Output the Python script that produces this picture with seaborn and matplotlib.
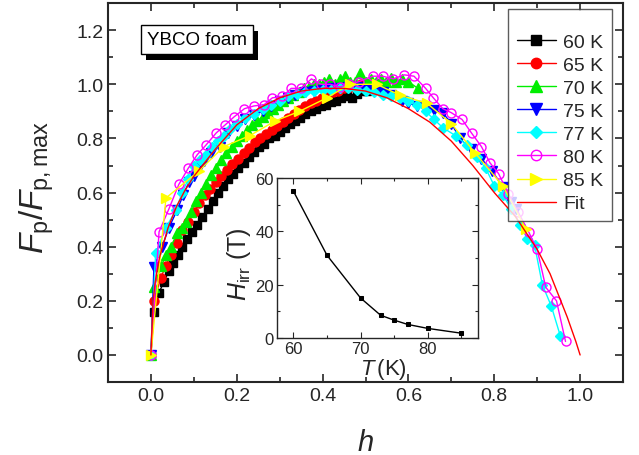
import numpy as np
import matplotlib
matplotlib.use('Agg')
import matplotlib.pyplot as plt
import matplotlib.patheffects as pe
from matplotlib.lines import Line2D
from matplotlib.ticker import MultipleLocator
import seaborn as sns

# Fp/Fp,max vs reduced field h, for each temperature
h_60 = [0.0, 0.007, 0.019, 0.030, 0.042, 0.051, 0.063, 0.073, 0.085, 0.096, 0.108, 0.120,
        0.132, 0.144, 0.156, 0.168, 0.180, 0.192, 0.204, 0.216, 0.228, 0.240, 0.252, 0.264,
        0.276, 0.288, 0.300, 0.312, 0.324, 0.336, 0.348, 0.360, 0.372, 0.384, 0.396, 0.408,
        0.420, 0.432, 0.444, 0.456, 0.468, 0.480, 0.492, 0.504, 0.516, 0.528]
fp_60 = [0.0, 0.16, 0.23, 0.27, 0.31, 0.34, 0.37, 0.40, 0.43, 0.455, 0.48, 0.51,
         0.54, 0.57, 0.60, 0.625, 0.65, 0.67, 0.69, 0.71, 0.73, 0.75, 0.77, 0.78,
         0.80, 0.81, 0.825, 0.84, 0.855, 0.865, 0.875, 0.89, 0.90, 0.91, 0.92, 0.925,
         0.935, 0.94, 0.95, 0.955, 0.95, 0.965, 0.975, 0.975, 0.99, 1.0]

h_65 = [0.0, 0.007, 0.023, 0.035, 0.047, 0.061, 0.073, 0.087, 0.100, 0.112, 0.126, 0.138,
        0.152, 0.164, 0.178, 0.190, 0.203, 0.216, 0.229, 0.242, 0.255, 0.268, 0.281, 0.294,
        0.307, 0.320, 0.333, 0.346, 0.359, 0.372, 0.385, 0.398, 0.411, 0.424, 0.437, 0.450,
        0.463, 0.476, 0.489, 0.502, 0.515, 0.526]
fp_65 = [0.0, 0.20, 0.285, 0.33, 0.37, 0.415, 0.46, 0.49, 0.53, 0.56, 0.59, 0.615,
         0.64, 0.66, 0.685, 0.705, 0.725, 0.745, 0.765, 0.785, 0.80, 0.815, 0.83, 0.845,
         0.86, 0.875, 0.89, 0.905, 0.92, 0.93, 0.94, 0.95, 0.96, 0.97, 0.975, 0.985,
         0.99, 0.995, 1.0, 0.995, 0.99, 0.985]

h_70 = [0.0, 0.007, 0.024, 0.036, 0.047, 0.061, 0.072, 0.082, 0.094, 0.105, 0.117, 0.128,
        0.140, 0.152, 0.164, 0.176, 0.188, 0.200, 0.212, 0.224, 0.236, 0.248, 0.260, 0.272,
        0.284, 0.296, 0.308, 0.320, 0.332, 0.344, 0.356, 0.368, 0.380, 0.392, 0.404, 0.416,
        0.428, 0.440, 0.452, 0.464, 0.476, 0.488, 0.500, 0.512, 0.524, 0.536, 0.548, 0.560,
        0.572, 0.584, 0.600, 0.622]
fp_70 = [0.0, 0.25, 0.33, 0.37, 0.40, 0.45, 0.47, 0.49, 0.53, 0.57, 0.60, 0.63,
         0.665, 0.69, 0.72, 0.745, 0.77, 0.79, 0.81, 0.83, 0.85, 0.865, 0.88, 0.895,
         0.91, 0.925, 0.94, 0.95, 0.96, 0.97, 0.985, 0.99, 1.0, 1.0, 1.01, 1.02,
         1.0, 1.02, 1.03, 1.01, 1.01, 1.04, 1.01, 1.02, 1.01, 1.02, 1.01, 1.025,
         1.01, 1.02, 1.01, 0.985]

h_75 = [0.0, 0.007, 0.026, 0.042, 0.061, 0.075, 0.089, 0.100, 0.112, 0.124, 0.140, 0.160,
        0.180, 0.200, 0.220, 0.240, 0.260, 0.280, 0.300, 0.320, 0.335, 0.360, 0.380, 0.400,
        0.420, 0.440, 0.460, 0.480, 0.500, 0.520, 0.540, 0.560, 0.585, 0.600, 0.620, 0.640,
        0.660, 0.680, 0.700, 0.720, 0.745, 0.770, 0.795, 0.820, 0.840, 0.850]
fp_75 = [0.0, 0.325, 0.40, 0.47, 0.535, 0.59, 0.64, 0.66, 0.69, 0.715, 0.745, 0.77,
         0.82, 0.845, 0.87, 0.885, 0.90, 0.92, 0.94, 0.95, 0.96, 0.97, 0.975, 0.98,
         0.985, 0.985, 0.99, 0.99, 0.98, 0.98, 0.97, 0.96, 0.94, 0.93, 0.92, 0.915,
         0.905, 0.895, 0.855, 0.80, 0.76, 0.725, 0.68, 0.62, 0.565, 0.54]

h_77 = [0.0, 0.011, 0.035, 0.058, 0.073, 0.087, 0.100, 0.114, 0.128, 0.142, 0.156, 0.170,
        0.185, 0.200, 0.220, 0.240, 0.260, 0.280, 0.300, 0.320, 0.340, 0.360, 0.380, 0.400,
        0.420, 0.440, 0.460, 0.480, 0.500, 0.520, 0.540, 0.560, 0.580, 0.600, 0.620, 0.640,
        0.660, 0.680, 0.710, 0.737, 0.760, 0.780, 0.800, 0.820, 0.840, 0.860, 0.877, 0.894,
        0.912, 0.933, 0.954]
fp_77 = [0.0, 0.375, 0.47, 0.535, 0.60, 0.65, 0.70, 0.72, 0.74, 0.77, 0.79, 0.81,
         0.835, 0.855, 0.875, 0.89, 0.91, 0.925, 0.94, 0.955, 0.965, 0.97, 0.975, 0.98,
         0.98, 0.985, 0.985, 0.98, 0.975, 0.97, 0.96, 0.955, 0.95, 0.94, 0.925, 0.90,
         0.87, 0.84, 0.81, 0.775, 0.73, 0.69, 0.625, 0.59, 0.54, 0.48, 0.43, 0.405,
         0.26, 0.18, 0.07]

h_80 = [0.0, 0.019, 0.042, 0.065, 0.087, 0.108, 0.128, 0.152, 0.173, 0.194, 0.218, 0.240,
        0.264, 0.283, 0.306, 0.327, 0.350, 0.374, 0.396, 0.418, 0.440, 0.462, 0.485, 0.517,
        0.540, 0.565, 0.590, 0.613, 0.640, 0.658, 0.680, 0.700, 0.725, 0.747, 0.770, 0.790,
        0.810, 0.833, 0.855, 0.880, 0.900, 0.920, 0.945, 0.966]
fp_80 = [0.0, 0.455, 0.54, 0.63, 0.69, 0.74, 0.775, 0.82, 0.85, 0.88, 0.91, 0.92,
         0.925, 0.95, 0.955, 0.985, 0.985, 1.02, 1.0, 1.0, 0.99, 1.0, 1.01, 1.03,
         1.03, 1.02, 1.035, 1.03, 0.985, 0.95, 0.91, 0.895, 0.87, 0.82, 0.77, 0.71,
         0.67, 0.595, 0.53, 0.455, 0.39, 0.25, 0.20, 0.05]

h_85 = [0.0, 0.035, 0.112, 0.170, 0.230, 0.290, 0.346, 0.410, 0.463, 0.526, 0.580, 0.643,
        0.700, 0.756, 0.820, 0.873]
fp_85 = [0.0, 0.58, 0.68, 0.77, 0.81, 0.865, 0.90, 0.95, 1.0, 1.0, 0.96, 0.93,
         0.855, 0.745, 0.625, 0.467]

h_fit = [0.0, 0.005, 0.01, 0.02, 0.04, 0.06, 0.08, 0.1, 0.15, 0.2, 0.25, 0.3, 0.35, 0.4,
         0.45, 0.5, 0.55, 0.6, 0.65, 0.7, 0.75, 0.8, 0.85, 0.9, 0.93, 0.95, 0.97, 0.99, 1.0]
fp_fit = [0.0, 0.2, 0.27, 0.36, 0.47, 0.55, 0.61, 0.66, 0.76, 0.85, 0.91, 0.95, 0.975, 0.985,
          0.985, 0.975, 0.95, 0.91, 0.86, 0.79, 0.70, 0.60, 0.51, 0.39, 0.30, 0.22, 0.14, 0.05, 0.0]

# inset: irreversibility field vs temperature
T_irr = [60, 65, 70, 73, 75, 77, 80, 85]
H_irr = [55, 31, 15, 8.5, 6.7, 5.1, 3.6, 1.8]

series = [
    ('60 K', h_60, fp_60, 'black', 's', 5.5, 'black'),
    ('65 K', h_65, fp_65, 'red', 'o', 6.5, 'red'),
    ('70 K', h_70, fp_70, '#00ee00', '^', 7, '#00ee00'),
    ('75 K', h_75, fp_75, 'blue', 'v', 7, 'blue'),
    ('77 K', h_77, fp_77, 'cyan', 'D', 5.5, 'cyan'),
    ('80 K', h_80, fp_80, 'magenta', 'o', 6.5, 'none'),
    ('85 K', h_85, fp_85, '#ffff00', '>', 7, '#ffff00'),
]

sns.set_style('ticks')
plt.rcParams['font.family'] = ['Liberation Sans', 'DejaVu Sans']
plt.rcParams['mathtext.fontset'] = 'custom'
plt.rcParams['mathtext.rm'] = 'Liberation Sans'
plt.rcParams['mathtext.it'] = 'Liberation Sans:italic'

fig = plt.figure(figsize=(6.39, 4.56), dpi=100)
ax = fig.add_axes([0.169, 0.160, 0.806, 0.831])

handles = []
for name, hx, fy, col, mk, ms, fc in series:
    sns.lineplot(x=hx, y=fy, ax=ax, color=col, marker=mk, markersize=ms,
                 markerfacecolor=fc, markeredgecolor=col, markeredgewidth=1,
                 linewidth=1, sort=False, estimator=None)
    handles.append(Line2D([], [], color=col, marker=mk, markersize=ms + 1,
                          markerfacecolor=fc, markeredgecolor=col, linewidth=1, label=name))

sns.lineplot(x=h_fit, y=fp_fit, ax=ax, color='red', linewidth=1, sort=False, estimator=None)
handles.append(Line2D([], [], color='red', linewidth=1, label='Fit'))

ax.set_xlim(-0.1, 1.1)
ax.set_ylim(-0.1, 1.3)
ax.xaxis.set_major_locator(MultipleLocator(0.2))
ax.xaxis.set_minor_locator(MultipleLocator(0.1))
ax.yaxis.set_major_locator(MultipleLocator(0.2))
ax.yaxis.set_minor_locator(MultipleLocator(0.1))
ax.tick_params(which='both', direction='in', top=True, right=True, width=1.2, labelsize=14)
ax.tick_params(which='major', length=6)
ax.tick_params(which='minor', length=3.5)
for sp in ax.spines.values():
    sp.set_linewidth(1.5)

ax.set_xlabel('$h$', fontsize=21)
ax.set_ylabel(r'$F_{\rm p}/F_{\rm p,max}$', fontsize=24)
ax.xaxis.set_label_coords(0.5, -0.12)
ax.yaxis.set_label_coords(-0.1, 0.515)

leg = ax.legend(handles=handles, loc='upper right', bbox_to_anchor=(0.979, 0.984),
                borderaxespad=0, fontsize=14, fancybox=False, handlelength=2.0,
                labelspacing=0.28, handletextpad=0.4, borderpad=0.45,
                title=' ', title_fontsize=8)
leg.get_frame().set_edgecolor('#333333')
leg.get_frame().set_linewidth(1)

# label box with drop shadow
tag = ax.text(0.108, 1.167, 'YBCO foam', fontsize=13.5, ha='center', va='center', color='black',
              bbox=dict(boxstyle='square,pad=0.32', fc='white', ec='black', lw=1))
tag.get_bbox_patch().set_path_effects([
    pe.SimplePatchShadow(offset=(3.6, -4.3), shadow_rgbFace='black', alpha=1.0),
    pe.Normal()])

# inset
axi = fig.add_axes([0.433, 0.2566, 0.315, 0.351])
sns.lineplot(x=T_irr, y=H_irr, ax=axi, color='black', marker='s', markersize=3.5,
             markeredgecolor='black', linewidth=1, sort=False, estimator=None)
axi.set_xlim(57.5, 87.5)
axi.set_ylim(0, 60)
axi.xaxis.set_major_locator(MultipleLocator(10))
axi.xaxis.set_minor_locator(MultipleLocator(5))
axi.yaxis.set_major_locator(MultipleLocator(20))
axi.yaxis.set_minor_locator(MultipleLocator(10))
axi.tick_params(which='both', direction='in', top=True, right=True, width=0.8, labelsize=12, pad=2)
axi.tick_params(which='major', length=4)
axi.tick_params(which='minor', length=2.5)
for sp in axi.spines.values():
    sp.set_linewidth(1)
axi.set_xlabel(r'$T\,$(K)', fontsize=16)
axi.set_ylabel(r'$H_{\rm irr}$ (T)', fontsize=18)
axi.xaxis.set_label_coords(0.53, -0.11)
axi.yaxis.set_label_coords(-0.12, 0.47)

fig.savefig('out.png', dpi=100)
